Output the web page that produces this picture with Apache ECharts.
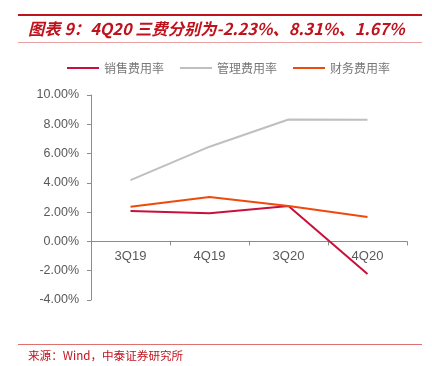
<!DOCTYPE html>
<html><head><meta charset="utf-8">
<script src="https://cdn.jsdelivr.net/npm/echarts@6/dist/echarts.min.js"></script>
<style>html,body{margin:0;padding:0;background:#fff}#c{width:432px;height:366px}</style>
</head><body><div id="c"></div>
<script>
var categories = ['3Q19', '4Q19', '3Q20', '4Q20'];
var salesRate = [2.08, 1.92, 2.42, -2.23];
var mgmtRate = [4.19, 6.47, 8.33, 8.31];
var finRate = [2.37, 3.03, 2.42, 1.67];
var yTicks = [-4, -2, 0, 2, 4, 6, 8, 10];
var seriesNames = ['销售费用率', '管理费用率', '财务费用率'];
var titleText = '图表 9：4Q20 三费分别为-2.23%、8.31%、1.67%';
var sourceText = '来源：Wind，中泰证券研究所';

var yMin = yTicks[0], yMax = yTicks[yTicks.length - 1];
var gridTop = 95, gridBottom = 66, H = 366;
var plotH = H - gridTop - gridBottom;
var zeroOffset = -plotH * (0 - yMin) / (yMax - yMin);

var chart = echarts.init(document.getElementById('c'), null, {renderer: 'canvas'});
var colors = ['#C8103C', '#BFBFBF', '#EE4A0C'];
chart.setOption({
  animation: false,
  color: colors,
  legend: {
    top: 57, left: 62, itemWidth: 32, itemHeight: 10, itemGap: 16,
    icon: 'path://M0,4 L32,4 L32,6 L0,6 Z',
    textStyle: {fontFamily: 'Noto Sans CJK SC', fontSize: 12, color: '#777'},
    data: seriesNames
  },
  grid: {left: 91, right: 25, top: gridTop, bottom: gridBottom, containLabel: false},
  xAxis: {
    type: 'category', data: categories, boundaryGap: true,
    offset: zeroOffset,
    axisLine: {onZero: false, lineStyle: {color: '#8c8c8c', width: 1}},
    axisTick: {show: true, inside: false, length: 4, lineStyle: {color: '#8c8c8c'}},
    axisLabel: {color: '#595959', fontFamily: 'Arial', fontSize: 13, margin: 8}
  },
  yAxis: {
    type: 'value', min: yMin, max: yMax, interval: 2,
    axisLine: {show: true, lineStyle: {color: '#8c8c8c', width: 1}},
    axisTick: {show: true, length: 4, lineStyle: {color: '#8c8c8c'}},
    splitLine: {show: false},
    axisLabel: {color: '#595959', fontFamily: 'Arial', fontSize: 12.5, margin: 12,
      formatter: function (v) { return v.toFixed(2) + '%'; }}
  },
  series: [
    {name: seriesNames[0], type: 'line', data: salesRate, symbol: 'none', lineStyle: {width: 2}, z: 3},
    {name: seriesNames[1], type: 'line', data: mgmtRate, symbol: 'none', lineStyle: {width: 2}, z: 2},
    {name: seriesNames[2], type: 'line', data: finRate, symbol: 'none', lineStyle: {width: 2}, z: 4}
  ],
  graphic: [
    {type: 'rect', shape: {x: 18, y: 14, width: 404, height: 2}, style: {fill: '#C0121C'}},
    {type: 'text', left: 28, top: 21, style: {text: titleText, fill: '#C0121C',
      font: 'italic bold 16.3px "Noto Sans CJK SC", Arial'}},
    {type: 'rect', shape: {x: 18, y: 42, width: 404, height: 1}, style: {fill: '#E8A0A0'}},
    {type: 'rect', shape: {x: 18, y: 344, width: 404, height: 1}, style: {fill: '#E07070'}},
    {type: 'text', left: 28, top: 350, style: {text: sourceText, fill: '#C0121C',
      font: '11.6px "Noto Sans CJK SC", monospace'}}
  ]
});
</script></body></html>
